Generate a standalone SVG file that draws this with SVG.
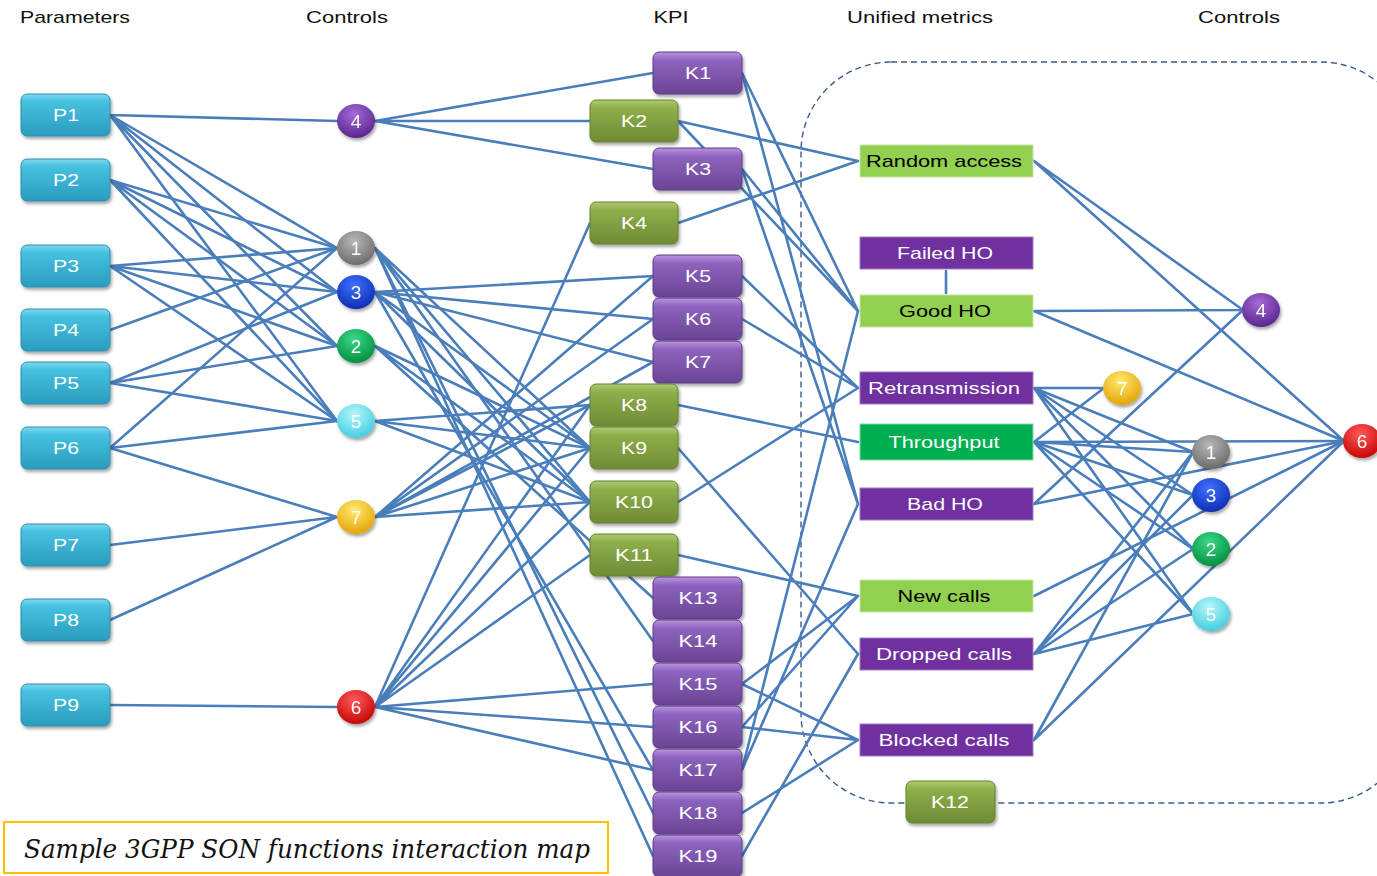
<svg xmlns="http://www.w3.org/2000/svg" width="1377" height="876" viewBox="0 0 1377 876">
<style>
.ln{stroke:#4A7EBB;stroke-width:2.6;fill:none;stroke-linecap:round}
.lbl{font-family:"Liberation Sans",Arial,sans-serif;font-size:17px;fill:#fff;text-anchor:middle}
.num{font-family:"Liberation Sans",Arial,sans-serif;font-size:19px;fill:#fff;text-anchor:middle}
.dk{fill:#000}
.hdr{font-family:"Liberation Sans",Arial,sans-serif;font-size:17px;fill:#111;text-anchor:middle}
.pbox{fill:url(#gTeal);stroke:#2E8EAC;stroke-width:1;filter:url(#sh)}
.kp{fill:url(#gPur);stroke:#5E3D88;stroke-width:1;filter:url(#sh)}
.kg{fill:url(#gOl);stroke:#66802F;stroke-width:1;filter:url(#sh)}
.mlg{fill:#92D050;stroke:#C6E5A6;stroke-width:1}
.mpu{fill:#7030A0;stroke:#A07CC0;stroke-width:1}
.mgr{fill:#00B050;stroke:#7FD7A7;stroke-width:1}
.circ{filter:url(#sh)}
</style>
<defs>
<filter id="sh" x="-20%" y="-20%" width="150%" height="160%">
<feDropShadow dx="1.5" dy="2.5" stdDeviation="1.8" flood-color="#000" flood-opacity="0.35"/>
</filter>
<linearGradient id="gTeal" x1="0" y1="0" x2="0" y2="1">
<stop offset="0" stop-color="#7ED9EF"/><stop offset="0.18" stop-color="#46C1E0"/><stop offset="1" stop-color="#2A9CBE"/>
</linearGradient>
<linearGradient id="gPur" x1="0" y1="0" x2="0" y2="1">
<stop offset="0" stop-color="#B994DF"/><stop offset="0.2" stop-color="#8D63BE"/><stop offset="1" stop-color="#6A4494"/>
</linearGradient>
<linearGradient id="gOl" x1="0" y1="0" x2="0" y2="1">
<stop offset="0" stop-color="#AECB72"/><stop offset="0.2" stop-color="#8EAE4A"/><stop offset="1" stop-color="#6E8B35"/>
</linearGradient>
<radialGradient id="cPur" cx="0.45" cy="0.3" r="0.75"><stop offset="0" stop-color="#A56BD6"/><stop offset="1" stop-color="#55208A"/></radialGradient>
<radialGradient id="cGry" cx="0.45" cy="0.3" r="0.75"><stop offset="0" stop-color="#B8B8B8"/><stop offset="1" stop-color="#666"/></radialGradient>
<radialGradient id="cBlu" cx="0.45" cy="0.3" r="0.75"><stop offset="0" stop-color="#3F70FF"/><stop offset="1" stop-color="#0A2AAE"/></radialGradient>
<radialGradient id="cGrn" cx="0.45" cy="0.3" r="0.75"><stop offset="0" stop-color="#3BD98A"/><stop offset="1" stop-color="#008A3A"/></radialGradient>
<radialGradient id="cCya" cx="0.45" cy="0.3" r="0.75"><stop offset="0" stop-color="#B5F6FB"/><stop offset="1" stop-color="#3CCBDC"/></radialGradient>
<radialGradient id="cYel" cx="0.45" cy="0.3" r="0.75"><stop offset="0" stop-color="#FFEA70"/><stop offset="1" stop-color="#E39F00"/></radialGradient>
<radialGradient id="cRed" cx="0.45" cy="0.3" r="0.75"><stop offset="0" stop-color="#FF5A5A"/><stop offset="1" stop-color="#C20000"/></radialGradient>
</defs>
<rect width="1377" height="876" fill="#fff"/>

<g id="headers">
<text class="hdr" x="75" y="23" textLength="110" lengthAdjust="spacingAndGlyphs">Parameters</text>
<text class="hdr" x="347" y="23" textLength="82" lengthAdjust="spacingAndGlyphs">Controls</text>
<text class="hdr" x="671" y="23" textLength="35" lengthAdjust="spacingAndGlyphs">KPI</text>
<text class="hdr" x="920" y="23" textLength="146" lengthAdjust="spacingAndGlyphs">Unified metrics</text>
<text class="hdr" x="1239" y="23" textLength="82" lengthAdjust="spacingAndGlyphs">Controls</text>
</g>

<g id="boundary">
<rect x="801" y="62" width="610" height="741" rx="90" ry="90" fill="none" stroke="#3A5B8C" stroke-width="1.4" stroke-dasharray="6 4"/>
</g>

<g id="connectors" class="ln">
<path d="M110 115L337 121M110 115L337 248M110 115L337 292M110 115L337 346M110 115L337 421"/>
<path d="M110 180L337 248M110 180L337 292M110 180L337 346M110 180L337 421"/>
<path d="M110 266L337 248M110 266L337 292M110 266L337 346M110 266L337 421"/>
<path d="M110 330L337 248M110 383L337 292M110 383L337 346M110 383L337 421"/>
<path d="M110 448L337 248M110 448L337 421M110 448L337 517M110 545L337 517M110 620L337 517M110 705L337 707"/>
<path d="M375 121L653 73M375 121L590 121M375 121L653 169"/>
<path d="M375 248L590 448M375 248L590 502M375 248L653 641M375 248L653 813M375 248L653 856"/>
<path d="M375 292L653 276M375 292L653 319M375 292L653 362M375 292L590 448M375 292L590 502M375 292L653 770"/>
<path d="M375 346L590 448M375 346L590 502M375 346L653 598"/>
<path d="M375 421L590 405M375 421L590 448M375 421L590 502"/>
<path d="M375 517L653 276M375 517L653 319M375 517L653 362M375 517L590 405M375 517L590 448M375 517L590 502"/>
<path d="M375 707L590 223M375 707L590 405M375 707L590 448M375 707L590 502M375 707L590 555M375 707L653 684M375 707L653 727M375 707L653 770"/>
<path d="M742 73L858 311M742 73L858 504M678 121L858 161M678 121L858 311M742 169L858 311M742 169L858 504M678 223L858 161"/>
<path d="M742 276L858 388M742 319L858 388M678 405L858 442M678 448L858 654M678 502L858 388M678 555L858 596"/>
<path d="M742 684L858 596M742 684L858 740M742 727L858 596M742 727L858 740M742 770L858 311M742 770L858 504M742 813L858 740M742 856L858 654"/>
<path d="M946 271L946 293"/>
<path d="M1034 161L1243 310M1034 161L1344 441M1034 311L1243 310M1034 311L1344 441"/>
<path d="M1034 388L1104 388M1034 388L1193 452M1034 388L1193 495M1034 388L1193 549M1034 388L1193 614"/>
<path d="M1034 442L1104 388M1034 442L1344 441M1034 442L1193 452M1034 442L1193 495M1034 442L1193 549M1034 442L1193 614"/>
<path d="M1034 504L1243 310M1034 504L1344 441M1034 596L1344 441"/>
<path d="M1034 654L1193 452M1034 654L1193 495M1034 654L1193 549M1034 654L1193 614M1034 740L1193 452M1034 740L1344 441"/>
</g>

<g id="P1"><rect class="pbox" x="21" y="94" width="89" height="42" rx="6"/><text class="lbl" x="66" y="121" textLength="26" lengthAdjust="spacingAndGlyphs">P1</text></g>
<g id="P2"><rect class="pbox" x="21" y="159" width="89" height="42" rx="6"/><text class="lbl" x="66" y="186" textLength="26" lengthAdjust="spacingAndGlyphs">P2</text></g>
<g id="P3"><rect class="pbox" x="21" y="245" width="89" height="42" rx="6"/><text class="lbl" x="66" y="272" textLength="26" lengthAdjust="spacingAndGlyphs">P3</text></g>
<g id="P4"><rect class="pbox" x="21" y="309" width="89" height="42" rx="6"/><text class="lbl" x="66" y="336" textLength="26" lengthAdjust="spacingAndGlyphs">P4</text></g>
<g id="P5"><rect class="pbox" x="21" y="362" width="89" height="42" rx="6"/><text class="lbl" x="66" y="389" textLength="26" lengthAdjust="spacingAndGlyphs">P5</text></g>
<g id="P6"><rect class="pbox" x="21" y="427" width="89" height="42" rx="6"/><text class="lbl" x="66" y="454" textLength="26" lengthAdjust="spacingAndGlyphs">P6</text></g>
<g id="P7"><rect class="pbox" x="21" y="524" width="89" height="42" rx="6"/><text class="lbl" x="66" y="551" textLength="26" lengthAdjust="spacingAndGlyphs">P7</text></g>
<g id="P8"><rect class="pbox" x="21" y="599" width="89" height="42" rx="6"/><text class="lbl" x="66" y="626" textLength="26" lengthAdjust="spacingAndGlyphs">P8</text></g>
<g id="P9"><rect class="pbox" x="21" y="684" width="89" height="42" rx="6"/><text class="lbl" x="66" y="711" textLength="26" lengthAdjust="spacingAndGlyphs">P9</text></g>

<g id="CL4" class="circ"><ellipse cx="356" cy="121" rx="19" ry="17" fill="url(#cPur)"/><text class="num" x="356" y="128">4</text></g>
<g id="CL1" class="circ"><ellipse cx="356" cy="248" rx="19" ry="17" fill="url(#cGry)"/><text class="num" x="356" y="255">1</text></g>
<g id="CL3" class="circ"><ellipse cx="356" cy="292" rx="19" ry="17" fill="url(#cBlu)"/><text class="num" x="356" y="299">3</text></g>
<g id="CL2" class="circ"><ellipse cx="356" cy="346" rx="19" ry="17" fill="url(#cGrn)"/><text class="num" x="356" y="353">2</text></g>
<g id="CL5" class="circ"><ellipse cx="356" cy="421" rx="19" ry="17" fill="url(#cCya)"/><text class="num" x="356" y="428">5</text></g>
<g id="CL7" class="circ"><ellipse cx="356" cy="517" rx="19" ry="17" fill="url(#cYel)"/><text class="num" x="356" y="524">7</text></g>
<g id="CL6" class="circ"><ellipse cx="356" cy="707" rx="19" ry="17" fill="url(#cRed)"/><text class="num" x="356" y="714">6</text></g>

<g id="K1"><rect class="kp" x="653" y="52" width="89" height="42" rx="6"/><text class="lbl" x="698" y="79" textLength="26" lengthAdjust="spacingAndGlyphs">K1</text></g>
<g id="K2"><rect class="kg" x="590" y="100" width="88" height="42" rx="6"/><text class="lbl" x="634" y="127" textLength="26" lengthAdjust="spacingAndGlyphs">K2</text></g>
<g id="K3"><rect class="kp" x="653" y="148" width="89" height="42" rx="6"/><text class="lbl" x="698" y="175" textLength="26" lengthAdjust="spacingAndGlyphs">K3</text></g>
<g id="K4"><rect class="kg" x="590" y="202" width="88" height="42" rx="6"/><text class="lbl" x="634" y="229" textLength="26" lengthAdjust="spacingAndGlyphs">K4</text></g>
<g id="K5"><rect class="kp" x="653" y="255" width="89" height="42" rx="6"/><text class="lbl" x="698" y="282" textLength="26" lengthAdjust="spacingAndGlyphs">K5</text></g>
<g id="K6"><rect class="kp" x="653" y="298" width="89" height="42" rx="6"/><text class="lbl" x="698" y="325" textLength="26" lengthAdjust="spacingAndGlyphs">K6</text></g>
<g id="K7"><rect class="kp" x="653" y="341" width="89" height="42" rx="6"/><text class="lbl" x="698" y="368" textLength="26" lengthAdjust="spacingAndGlyphs">K7</text></g>
<g id="K8"><rect class="kg" x="590" y="384" width="88" height="42" rx="6"/><text class="lbl" x="634" y="411" textLength="26" lengthAdjust="spacingAndGlyphs">K8</text></g>
<g id="K9"><rect class="kg" x="590" y="427" width="88" height="42" rx="6"/><text class="lbl" x="634" y="454" textLength="26" lengthAdjust="spacingAndGlyphs">K9</text></g>
<g id="K10"><rect class="kg" x="590" y="481" width="88" height="42" rx="6"/><text class="lbl" x="634" y="508" textLength="38" lengthAdjust="spacingAndGlyphs">K10</text></g>
<g id="K11"><rect class="kg" x="590" y="534" width="88" height="42" rx="6"/><text class="lbl" x="634" y="561" textLength="38" lengthAdjust="spacingAndGlyphs">K11</text></g>
<g id="K13"><rect class="kp" x="653" y="577" width="89" height="42" rx="6"/><text class="lbl" x="698" y="604" textLength="39" lengthAdjust="spacingAndGlyphs">K13</text></g>
<g id="K14"><rect class="kp" x="653" y="620" width="89" height="42" rx="6"/><text class="lbl" x="698" y="647" textLength="39" lengthAdjust="spacingAndGlyphs">K14</text></g>
<g id="K15"><rect class="kp" x="653" y="663" width="89" height="42" rx="6"/><text class="lbl" x="698" y="690" textLength="39" lengthAdjust="spacingAndGlyphs">K15</text></g>
<g id="K16"><rect class="kp" x="653" y="706" width="89" height="42" rx="6"/><text class="lbl" x="698" y="733" textLength="39" lengthAdjust="spacingAndGlyphs">K16</text></g>
<g id="K17"><rect class="kp" x="653" y="749" width="89" height="42" rx="6"/><text class="lbl" x="698" y="776" textLength="39" lengthAdjust="spacingAndGlyphs">K17</text></g>
<g id="K18"><rect class="kp" x="653" y="792" width="89" height="42" rx="6"/><text class="lbl" x="698" y="819" textLength="39" lengthAdjust="spacingAndGlyphs">K18</text></g>
<g id="K19"><rect class="kp" x="653" y="835" width="89" height="42" rx="6"/><text class="lbl" x="698" y="862" textLength="39" lengthAdjust="spacingAndGlyphs">K19</text></g>
<g id="K12"><rect class="kg" x="906" y="781" width="89" height="42" rx="6"/><text class="lbl" x="950" y="808" textLength="38" lengthAdjust="spacingAndGlyphs">K12</text></g>

<g id="RandomAccess"><rect class="mlg" x="860" y="145" width="173" height="32"/><text class="lbl dk" x="944" y="167" textLength="156" lengthAdjust="spacingAndGlyphs">Random access</text></g>
<g id="FailedHO"><rect class="mpu" x="860" y="237" width="173" height="32"/><text class="lbl" x="945" y="259" textLength="96" lengthAdjust="spacingAndGlyphs">Failed HO</text></g>
<g id="GoodHO"><rect class="mlg" x="860" y="295" width="173" height="32"/><text class="lbl dk" x="945" y="317" textLength="92" lengthAdjust="spacingAndGlyphs">Good HO</text></g>
<g id="Retransmission"><rect class="mpu" x="860" y="372" width="173" height="32"/><text class="lbl" x="944" y="394" textLength="152" lengthAdjust="spacingAndGlyphs">Retransmission</text></g>
<g id="Throughput"><rect class="mgr" x="860" y="424" width="173" height="36"/><text class="lbl" x="944" y="448" textLength="111" lengthAdjust="spacingAndGlyphs">Throughput</text></g>
<g id="BadHO"><rect class="mpu" x="860" y="488" width="173" height="32"/><text class="lbl" x="945" y="510" textLength="76" lengthAdjust="spacingAndGlyphs">Bad HO</text></g>
<g id="NewCalls"><rect class="mlg" x="860" y="580" width="173" height="32"/><text class="lbl dk" x="944" y="602" textLength="93" lengthAdjust="spacingAndGlyphs">New calls</text></g>
<g id="DroppedCalls"><rect class="mpu" x="860" y="638" width="173" height="32"/><text class="lbl" x="944" y="660" textLength="136" lengthAdjust="spacingAndGlyphs">Dropped calls</text></g>
<g id="BlockedCalls"><rect class="mpu" x="860" y="724" width="173" height="32"/><text class="lbl" x="944" y="746" textLength="131" lengthAdjust="spacingAndGlyphs">Blocked calls</text></g>

<g id="CR4" class="circ"><ellipse cx="1261" cy="310" rx="19" ry="17" fill="url(#cPur)"/><text class="num" x="1261" y="317">4</text></g>
<g id="CR7" class="circ"><ellipse cx="1122" cy="388" rx="19" ry="17" fill="url(#cYel)"/><text class="num" x="1122" y="395">7</text></g>
<g id="CR1" class="circ"><ellipse cx="1211" cy="452" rx="19" ry="17" fill="url(#cGry)"/><text class="num" x="1211" y="459">1</text></g>
<g id="CR3" class="circ"><ellipse cx="1211" cy="495" rx="19" ry="17" fill="url(#cBlu)"/><text class="num" x="1211" y="502">3</text></g>
<g id="CR2" class="circ"><ellipse cx="1211" cy="549" rx="19" ry="17" fill="url(#cGrn)"/><text class="num" x="1211" y="556">2</text></g>
<g id="CR5" class="circ"><ellipse cx="1211" cy="614" rx="19" ry="17" fill="url(#cCya)"/><text class="num" x="1211" y="621">5</text></g>
<g id="CR6" class="circ"><ellipse cx="1362" cy="441" rx="19" ry="17" fill="url(#cRed)"/><text class="num" x="1362" y="448">6</text></g>

<g id="caption">
<rect x="4" y="822" width="604" height="51" fill="#fff" stroke="#FFC000" stroke-width="2"/>
<text x="24" y="858" font-family="'DejaVu Serif','Liberation Serif',serif" font-style="italic" font-size="26" fill="#111" textLength="566" lengthAdjust="spacingAndGlyphs">Sample 3GPP SON functions interaction map</text>
</g>
</svg>
